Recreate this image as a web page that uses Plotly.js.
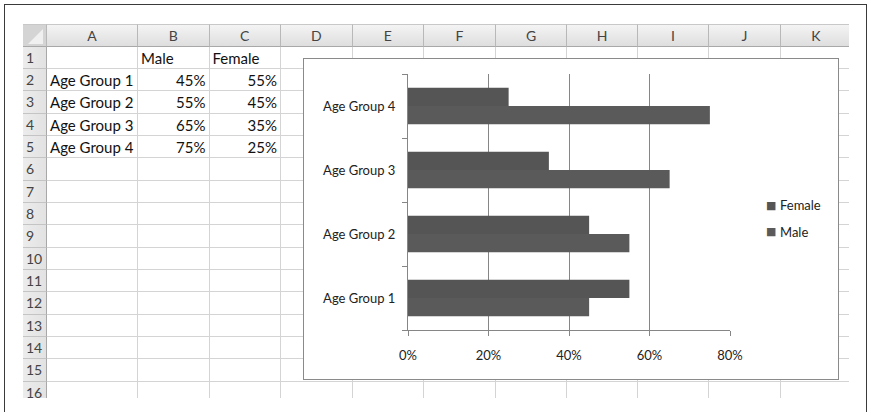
<!DOCTYPE html>
<html><head><meta charset="utf-8">
<script src="https://cdn.plot.ly/plotly-3.0.1.min.js"></script>
<style>
html,body{margin:0;padding:0;background:#fff;}
body{width:869px;height:412px;overflow:hidden;position:relative;font-family:Lato,"Open Sans",sans-serif;}
#frame{position:absolute;left:4px;top:4px;width:861px;height:420px;border:1px solid #3a3a3a;border-bottom:none;}
#sheet{position:absolute;left:0;top:0;width:849px;height:398px;overflow:hidden;}
.c{position:absolute;box-sizing:border-box;white-space:nowrap;color:#111;font-size:15px;line-height:22px;}
.h{color:#444;font-size:14px;text-align:center;}
#box{position:absolute;left:303px;top:58px;width:534px;height:320px;border:1px solid #8a8a8a;background:#fff;}
#chart{position:absolute;left:0;top:0;width:534px;height:320px;}
</style></head>
<body>
<div id="frame"></div>
<div id="sheet"></div>
<div id="box"><div id="chart"></div></div>
<script>
// ---- data ----
var categories = ["Age Group 1", "Age Group 2", "Age Group 3", "Age Group 4"];
var male = [0.45, 0.55, 0.65, 0.75];
var female = [0.55, 0.45, 0.35, 0.25];
var seriesNames = ["Male", "Female"];
var colLetters = ["A","B","C","D","E","F","G","H","I","J","K"];
var xTicks = [0, 0.2, 0.4, 0.6, 0.8];
var xTickText = ["0%", "20%", "40%", "60%", "80%"];
var legendOrder = ["Female", "Male"];

// ---- spreadsheet ----
var sheet = document.getElementById('sheet');
var colEdges = [23, 47, 138, 209.5, 281, 352.5, 424, 496, 567, 638, 709, 781, 852];
var headTop = 24, headBot = 46.7, rowH = 22.33, nRows = 16;
function rowTop(i){ return Math.round(headBot + (i-1)*rowH); }
function div(x, y, w, h, style, text){
  var d = document.createElement('div');
  d.className = 'c';
  d.style.left = x + 'px'; d.style.top = y + 'px';
  d.style.width = w + 'px'; d.style.height = h + 'px';
  if (style) d.style.cssText += style;
  if (text !== undefined) d.textContent = text;
  sheet.appendChild(d);
  return d;
}
// header row
var hb = 'background:linear-gradient(#f4f4f4,#dedede);border-right:1px solid #b8b8b8;border-bottom:1px solid #a8a8a8;';
var corner = div(colEdges[0], headTop, colEdges[1]-colEdges[0], headBot-headTop, 'background:#d4d4d4;border-right:1px solid #b8b8b8;border-bottom:1px solid #a8a8a8;border-top:1px solid #c8c8c8;');
corner.innerHTML = '<svg width="24" height="22" style="position:absolute;left:0;top:0"><polygon points="20,4 20,19 5,19" fill="#f0f0f0"/></svg>';
for (var j = 0; j < colLetters.length; j++){
  var d = div(colEdges[j+1], headTop, colEdges[j+2]-colEdges[j+1], headBot-headTop, hb + 'border-top:1px solid #c8c8c8;', colLetters[j]);
  d.className = 'c h';
}
// row headers and grid
for (var i = 1; i <= nRows; i++){
  var y0 = rowTop(i), y1 = rowTop(i+1);
  div(colEdges[0], y0, colEdges[1]-colEdges[0], y1-y0, 'background:linear-gradient(90deg,#ececec,#e2e2e2);border-right:1px solid #a8a8a8;border-bottom:1px solid #c4c4c4;padding-left:3px;color:#444;font-size:14px;', String(i));
  for (var j = 0; j < colLetters.length; j++){
    div(colEdges[j+1], y0, colEdges[j+2]-colEdges[j+1], y1-y0, 'border-right:1px solid #d4d4d4;border-bottom:1px solid #d4d4d4;');
  }
}
// cell contents
function cellText(col, row, text, align){
  var y0 = rowTop(row), y1 = rowTop(row+1);
  var pad = align === 'right' ? 'padding-right:4px;' : 'padding-left:3px;';
  div(colEdges[col+1], y0, colEdges[col+2]-colEdges[col+1], y1-y0, 'text-align:' + align + ';' + pad + 'line-height:23px;', text);
}
cellText(1, 1, seriesNames[0], 'left');
cellText(2, 1, seriesNames[1], 'left');
for (var k = 0; k < categories.length; k++){
  cellText(0, k+2, categories[k], 'left');
  cellText(1, k+2, Math.round(male[k]*100) + '%', 'right');
  cellText(2, k+2, Math.round(female[k]*100) + '%', 'right');
}

// ---- chart ----
var colors = {Male:'#5a5a5a', Female:'#555555'};
var traces = [
  {type:'bar', orientation:'h', name:seriesNames[0], y:categories, x:male, marker:{color:colors.Male}},
  {type:'bar', orientation:'h', name:seriesNames[1], y:categories, x:female, marker:{color:colors.Female}}
];
// legend drawn as annotations (Excel-style compact legend)
var legY = [0.487, 0.383];
var annotations = [];
legendOrder.forEach(function(n, idx){
  annotations.push({xref:'paper', yref:'paper', x:1.127, y:legY[idx], xanchor:'center', yanchor:'middle',
    text:'■', showarrow:false, font:{family:'DejaVu Sans', size:11, color:colors[n]}});
  annotations.push({xref:'paper', yref:'paper', x:1.148, y:legY[idx], xanchor:'left', yanchor:'middle',
    text:n, showarrow:false, font:{size:13, color:'#222'}});
});
var layout = {
  width:534, height:320,
  margin:{l:103.5, r:107.5, t:14.5, b:49, autoexpand:false},
  paper_bgcolor:'#fff', plot_bgcolor:'#fff',
  font:{family:'Lato, "Open Sans", sans-serif', size:13, color:'#222'},
  barmode:'group', bargap:0.43, bargroupgap:0,
  showlegend:false,
  annotations:annotations,
  xaxis:{range:[0,0.8], tickvals:xTicks, ticktext:xTickText, showgrid:true, gridcolor:'#868686', gridwidth:1,
         zeroline:false, showline:true, linecolor:'#868686', linewidth:1, ticks:'outside', ticklen:5,
         tickcolor:'#868686', ticklabelstandoff:8, fixedrange:true},
  yaxis:{type:'category', showgrid:false, zeroline:false, showline:true, linecolor:'#868686', linewidth:1,
         ticks:'outside', ticklen:5, tickcolor:'#868686', tickson:'boundaries', ticklabelstandoff:9,
         fixedrange:true}
};
Plotly.newPlot('chart', traces, layout, {displayModeBar:false, staticPlot:true});
</script>
</body></html>
